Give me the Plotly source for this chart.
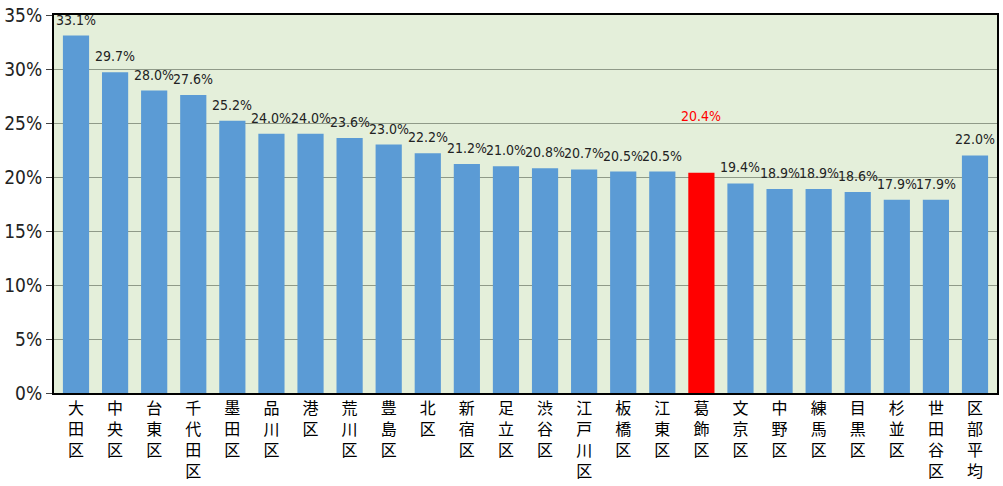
import plotly.graph_objects as go

wards = ["大田区", "中央区", "台東区", "千代田区", "墨田区", "品川区", "港区", "荒川区",
         "豊島区", "北区", "新宿区", "足立区", "渋谷区", "江戸川区", "板橋区", "江東区",
         "葛飾区", "文京区", "中野区", "練馬区", "目黒区", "杉並区", "世田谷区", "区部平均"]
rates = [33.1, 29.7, 28.0, 27.6, 25.2, 24.0, 24.0, 23.6, 23.0, 22.2, 21.2, 21.0,
         20.8, 20.7, 20.5, 20.5, 20.4, 19.4, 18.9, 18.9, 18.6, 17.9, 17.9, 22.0]
highlight = "葛飾区"
y_ticks = [0, 5, 10, 15, 20, 25, 30, 35]

BLUE = "#5b9bd5"
RED = "#ff0000"
NARROW = "DejaVu Sans Condensed, DejaVu Sans, sans-serif"
CJK = "Noto Sans CJK JP, sans-serif"

colors = [RED if w == highlight else BLUE for w in wards]
# stack the characters of each ward name vertically
tick_text = ["<br>".join(list(w)) for w in wards]

fig = go.Figure(go.Bar(
    x=wards, y=rates, marker=dict(color=colors, line=dict(width=0)),
    hoverinfo="x+y",
))

for w, v in zip(wards, rates):
    is_hl = w == highlight
    fig.add_annotation(
        x=w, y=v, text=f"{v:.1f}%", showarrow=False,
        yanchor="bottom", yshift=47 if is_hl else 6,
        font=dict(family=NARROW, size=14, color=RED if is_hl else "#222222"),
    )

fig.update_layout(
    width=1003, height=486,
    margin=dict(l=52, r=4, t=14, b=91),
    paper_bgcolor="white", plot_bgcolor="#e4efda",
    bargap=0.33, showlegend=False,
    xaxis=dict(
        tickmode="array", tickvals=wards, ticktext=tick_text,
        tickfont=dict(family=CJK, size=16, color="#000000"),
        showline=True, linecolor="black", linewidth=2, mirror=True,
        ticks="", showgrid=False,
    ),
    yaxis=dict(
        range=[0, 35], tickvals=y_ticks,
        ticktext=[f"{t}%" for t in y_ticks],
        tickfont=dict(family=NARROW, size=19, color="#222222"),
        showgrid=True, gridcolor="#8f9a88", gridwidth=1,
        showline=True, linecolor="black", linewidth=2, mirror=True,
        ticks="outside", ticklen=6, tickcolor="#444444",
        zeroline=False,
    ),
)

fig.write_html("out.html")
